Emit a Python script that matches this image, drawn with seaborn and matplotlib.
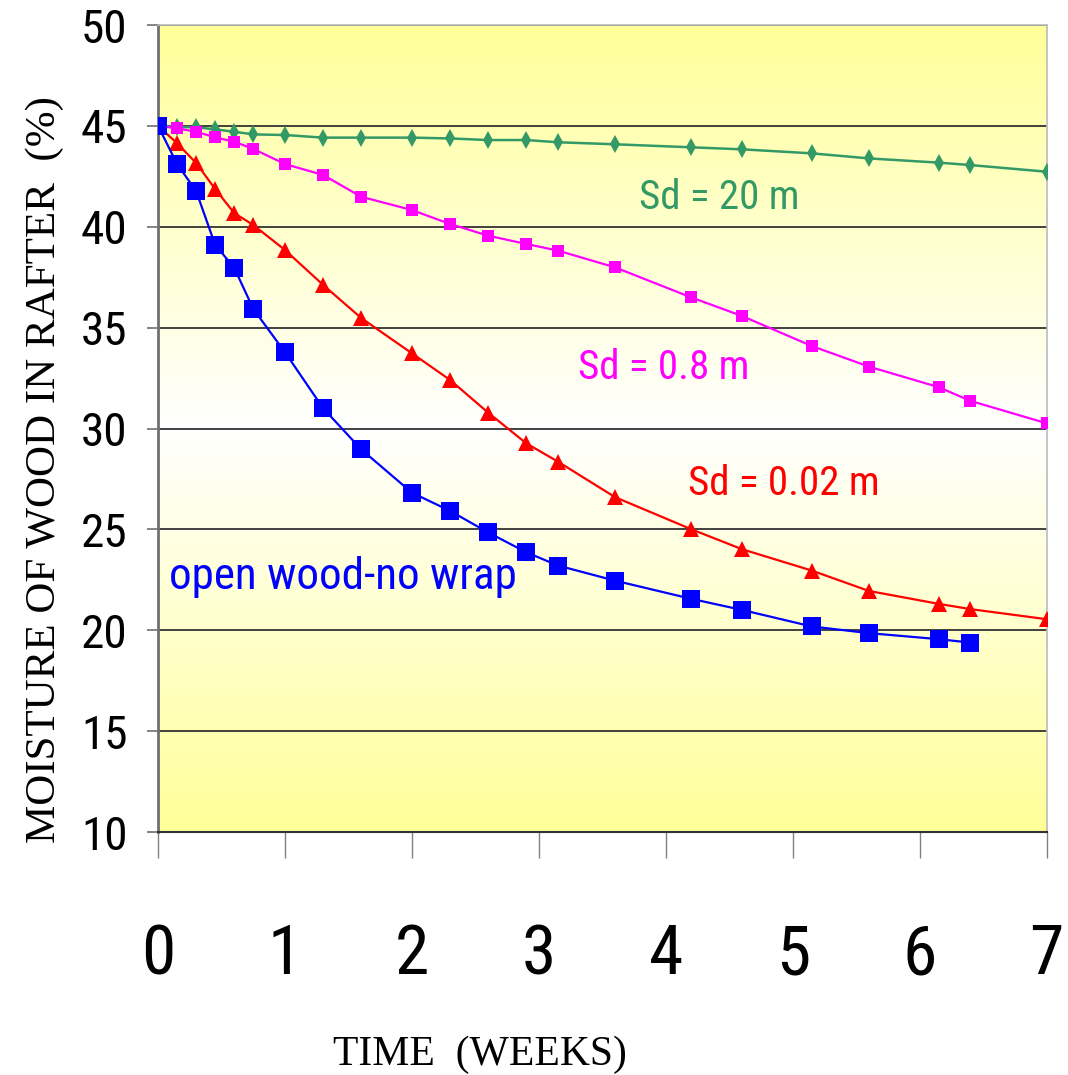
import numpy as np
import pandas as pd
import seaborn as sns
import matplotlib.pyplot as plt
from matplotlib import font_manager
from matplotlib.colors import LinearSegmentedColormap

# time points (weeks) shared by all curves
weeks = [0, 0.15, 0.3, 0.45, 0.6, 0.75, 1.0, 1.3, 1.6, 2.0, 2.3, 2.6, 2.9,
         3.15, 3.6, 4.2, 4.6, 5.15, 5.6, 6.15, 6.4, 7.0]

sd_20 = [45, 44.95, 44.93, 44.83, 44.71, 44.58, 44.55, 44.42, 44.42, 44.42, 44.38,
         44.3, 44.3, 44.19, 44.09, 43.94, 43.84, 43.64, 43.39, 43.18, 43.06, 42.73]
sd_08 = [45, 44.88, 44.71, 44.43, 44.22, 43.86, 43.11, 42.57, 41.49, 40.83, 40.14,
         39.56, 39.15, 38.82, 37.99, 36.5, 35.58, 34.09, 33.07, 32.05, 31.37, 30.26]
sd_002 = [45, 44.14, 43.16, 41.87, 40.68, 40.09, 38.85, 37.12, 35.48, 33.73, 32.41,
          30.79, 29.27, 28.36, 26.6, 25.01, 24.02, 22.96, 21.95, 21.31, 21.05, 20.55]
# open wood stops at 6.4 weeks
open_wood = [45, 43.11, 41.77, 39.1, 37.97, 35.93, 33.78, 31.01, 28.97, 26.82, 25.92,
             24.85, 23.87, 23.21, 22.46, 21.56, 21.01, 20.19, 19.86, 19.56, 19.39]

y_ticks = [10, 15, 20, 25, 30, 35, 40, 45, 50]
x_ticks = [0, 1, 2, 3, 4, 5, 6, 7]

# look for a narrow sans font, the original uses Arial Narrow
installed = {f.name for f in font_manager.fontManager.ttflist}
narrow_fp = None
for name in ['Liberation Sans Narrow', 'Arial Narrow', 'Roboto Condensed',
             'DejaVu Sans Condensed', 'Open Sans Condensed', 'Noto Sans Condensed']:
    if name in installed:
        narrow_fp = dict(family=name)
        break
if narrow_fp is None:
    for fam in ['DejaVu Sans', 'Noto Sans', 'Open Sans', 'Roboto', 'Inter']:
        fp = font_manager.FontProperties(family=fam, stretch='condensed')
        path = font_manager.findfont(fp, fallback_to_default=False)
        if 'ondensed' in path or 'arrow' in path:
            narrow_fp = dict(family=fam, stretch='condensed')
            break
if narrow_fp is None:
    narrow_fp = dict(family='Liberation Sans')

serif = ['Liberation Serif', 'DejaVu Serif']

fig = plt.figure(figsize=(10.68, 10.75), dpi=100)
ax = fig.add_axes([0.148, 0.226, 0.832, 0.7507])

# yellow -> white -> yellow background
cmap = LinearSegmentedColormap.from_list('bg', ['#FFFF99', '#FFFFFF', '#FFFF99'])
grad = np.linspace(0, 1, 256).reshape(-1, 1)
ax.imshow(grad, cmap=cmap, aspect='auto', extent=[0, 1, 0, 1],
          transform=ax.transAxes, zorder=-5)

series = [
    (sd_20, weeks, '#339966', 'd', 9, 1.8),
    (sd_08, weeks, '#FF00FF', 's', 8, 1.6),
    (sd_002, weeks, '#FF0000', '^', 11, 1.6),
    (open_wood, weeks[:len(open_wood)], '#0000FF', 's', 13, 1.6),
]
for vals, xs, col, mk, ms, lw in series:
    df = pd.DataFrame({'week': xs, 'moisture': vals})
    sns.lineplot(data=df, x='week', y='moisture', ax=ax, color=col, marker=mk,
                 markersize=ms, markeredgecolor=col, markeredgewidth=0,
                 linewidth=lw, sort=False, zorder=3)

ax.set_xlim(0, 7)
ax.set_ylim(10, 50)
ax.set_xticks(x_ticks)
ax.set_yticks(y_ticks)
ax.set_xlabel('')
ax.set_ylabel('')

ax.grid(axis='y', color='#333333', linewidth=1.3)
ax.grid(axis='x', visible=False)

for s in ['top', 'right']:
    ax.spines[s].set_color('#BBBBBB')
    ax.spines[s].set_linewidth(1.2)
ax.spines['left'].set_color('#707070')
ax.spines['left'].set_linewidth(2)
ax.spines['bottom'].set_color('#333333')
ax.spines['bottom'].set_linewidth(1.5)

ax.tick_params(axis='y', length=8, width=1.2, color='#707070', pad=14)
ax.tick_params(axis='x', length=19, width=1, color='#808080', pad=46)
for lab in ax.get_yticklabels():
    lab.set(**narrow_fp)
    lab.set_fontsize(34)
for lab in ax.get_xticklabels():
    lab.set(**narrow_fp)
    lab.set_fontsize(50)

ax.text(4.42, 41.43, 'Sd = 20 m', color='#339966', fontsize=29.5,
        ha='center', va='center', **narrow_fp)
ax.text(3.98, 33.05, 'Sd = 0.8 m', color='#FF00FF', fontsize=29.5,
        ha='center', va='center', **narrow_fp)
ax.text(4.93, 27.3, 'Sd = 0.02 m', color='#FF0000', fontsize=29.5,
        ha='center', va='center', **narrow_fp)
ax.text(0.085, 22.65, 'open wood-no wrap', color='#0000FF', fontsize=32.5,
        ha='left', va='center', **narrow_fp)

fig.text(480 / 1068, 1 - 1055 / 1075, 'TIME  (WEEKS)', family=serif,
         fontsize=30, ha='center', va='center')
fig.text(45 / 1068, 1 - 470 / 1075, 'MOISTURE OF WOOD IN RAFTER  (%)',
         family=serif, fontsize=31, rotation=90, ha='center', va='center')

fig.savefig('out.png', dpi=100)
